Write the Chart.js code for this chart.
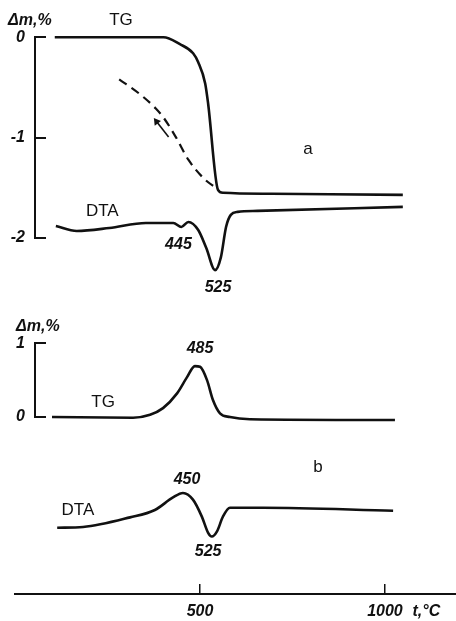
<!DOCTYPE html>
<html lang="en">
<head>
<meta charset="UTF-8">
<script src="https://cdn.jsdelivr.net/npm/chart.js"></script>
<style>
  body { margin: 0; background: #fff; }
  .wrap { position: relative; width: 456px; height: 621px; }
  .wrap > div { position: absolute; left: 0; width: 456px; }
</style>
</head>
<body>
<div class="wrap">
  <div style="top:0;height:300px"><canvas id="chartA"></canvas></div>
  <div style="top:300px;height:260px"><canvas id="chartB"></canvas></div>
  <div style="top:560px;height:61px"><canvas id="chartC"></canvas></div>
</div>
<script>
// ---- data (t in deg C) ----
// panel a: TG on heating
const tgA_t  = [108, 405, 450, 486, 500, 519, 527, 554, 568, 700, 1059]
const tgA_dm = [0, 0, -0.07, -0.16, -0.25, -0.46, -0.66, -1.52, -1.55, -1.56, -1.57]
// panel a: TG on cooling (dashed)
const coolA_t  = [284, 338, 384, 405, 438, 473, 519, 549]
const coolA_dm = [-0.42, -0.56, -0.71, -0.80, -0.99, -1.22, -1.42, -1.50]
// arrow along the cooling branch (tail, head)
const arrowA_t  = [419, 386]
const arrowA_dm = [-0.995, -0.84]
// panel a: DTA (arbitrary units)
const dtaA_t = [111, 168, 257, 357, 432, 454, 473, 500, 522, 546, 562, 576, 589, 608, 662, 1059]
const dtaA_v = [-1.88, -1.93, -1.90, -1.85, -1.85, -1.89, -1.84, -1.92, -2.10, -2.32, -2.19, -1.89, -1.77, -1.74, -1.73, -1.69]

// panel b: TG
const tgB_t  = [100, 319, 365, 400, 438, 465, 486, 500, 519, 535, 554, 581, 635, 1027]
const tgB_dm = [0, -0.01, 0.03, 0.12, 0.32, 0.54, 0.69, 0.68, 0.50, 0.23, 0.05, 0, -0.03, -0.04]
// panel b: DTA (arbitrary units)
const dtaB_t = [114, 184, 311, 378, 427, 454, 481, 505, 522, 532, 546, 562, 581, 670, 1022]
const dtaB_v = [-1.50, -1.49, -1.36, -1.26, -1.09, -1.03, -1.12, -1.35, -1.57, -1.62, -1.55, -1.35, -1.23, -1.23, -1.27]

// temperature axis ticks
const xTicks = [500, 1000]

// text notes on the plot: [text, t, value, axis, numeric?]
const notesA = [
  ['TG', 289, 0.17, 'y', false],
  ['DTA', 238, -1.73, 'y', false],
  ['a', 800, -1.12, 'y', false],
  ['445', 446, -2.07, 'y', true],
  ['525', 554, -2.49, 'y', true]
]
const notesB = [
  ['TG', 238, 0.20, 'y', false],
  ['485', 500, 0.93, 'y', true],
  ['DTA', 170, -1.26, 'y', false],
  ['450', 465, -0.85, 'y', true],
  ['525', 522, -1.82, 'y', true],
  ['b', 819, -0.68, 'y', false]
]
const notesC = [
  ['t,°C', 1112, -0.53, 'y', true]
]

const INK = '#111'
const FAMILY = "'Liberation Sans', Arial, sans-serif"
const numFont = { family: FAMILY, size: 16, style: 'italic', weight: 'bold' }
const textFont = { family: FAMILY, size: 17 }

const notesPlugin = {
  id: 'notes',
  afterDatasetsDraw(chart, args, opts) {
    const ctx = chart.ctx
    const xs = chart.scales.x
    ctx.save()
    ctx.fillStyle = INK
    ctx.textAlign = 'center'
    ctx.textBaseline = 'middle'
    for (const [text, t, v, axis, num] of opts.items || []) {
      const f = num ? numFont : textFont
      ctx.font = (f.style || '') + ' ' + (f.weight || '') + ' ' + f.size + 'px ' + f.family
      ctx.fillText(text, xs.getPixelForValue(t), chart.scales[axis].getPixelForValue(v))
    }
    ctx.restore()
  }
}

function line(ts, vs, extra) {
  return Object.assign({
    data: ts.map((t, i) => ({ x: t, y: vs[i] })),
    borderColor: INK,
    borderWidth: 2.6,
    pointRadius: 0,
    cubicInterpolationMode: 'monotone',
    fill: false,
    clip: false
  }, extra)
}

function panelY(min, max, width) {
  return {
    min: min, max: max,
    position: 'left',
    afterFit: s => { s.width = width },
    border: { color: INK, width: 2 },
    grid: { drawOnChartArea: false, color: INK, lineWidth: 2, tickLength: -11 },
    ticks: { stepSize: 1, padding: 21, color: INK, font: numFont }
  }
}

function baseOptions(extra) {
  return Object.assign({
    responsive: true,
    maintainAspectRatio: false,
    animation: false,
    events: [],
    devicePixelRatio: 1
  }, extra)
}

const hiddenX = { type: 'linear', display: false, min: 54, max: 1192 }

new Chart(document.getElementById('chartA'), {
  type: 'line',
  data: {
    datasets: [
      line(tgA_t, tgA_dm),
      line(coolA_t, coolA_dm, { borderDash: [9, 6], borderWidth: 2.2 }),
      line(arrowA_t, arrowA_dm, {
        borderWidth: 1.6, cubicInterpolationMode: 'default', tension: 0,
        pointRadius: [0, 4.5], pointStyle: 'triangle', pointRotation: [0, -37],
        pointBackgroundColor: INK, pointBorderWidth: 0
      }),
      line(dtaA_t, dtaA_v)
    ]
  },
  options: baseOptions({
    layout: { padding: { left: 8, right: 0, top: 0, bottom: 62 } },
    scales: { x: hiddenX, y: panelY(-2, 0, 27) },
    plugins: {
      legend: { display: false },
      tooltip: { enabled: false },
      title: { display: true, text: 'Δm,%', align: 'start', color: INK, font: numFont, padding: { top: 11, bottom: 7 } },
      notes: { items: notesA }
    }
  }),
  plugins: [notesPlugin]
})

new Chart(document.getElementById('chartB'), {
  type: 'line',
  data: {
    datasets: [
      line(tgB_t, tgB_dm),
      line(dtaB_t, dtaB_v)
    ]
  },
  options: baseOptions({
    layout: { padding: { left: 16, right: 0, top: 0, bottom: 143 } },
    scales: { x: hiddenX, y: panelY(0, 1, 19) },
    plugins: {
      legend: { display: false },
      tooltip: { enabled: false },
      title: { display: true, text: 'Δm,%', align: 'start', color: INK, font: numFont, padding: { top: 17, bottom: 7 } },
      notes: { items: notesB }
    }
  }),
  plugins: [notesPlugin]
})

new Chart(document.getElementById('chartC'), {
  type: 'line',
  data: { datasets: [] },
  options: baseOptions({
    layout: { padding: { left: 15, right: 0, top: 0, bottom: 0 } },
    scales: {
      x: {
        type: 'linear', min: 0, max: 1192,
        position: 'bottom',
        afterBuildTicks: axis => { axis.ticks = xTicks.map(v => ({ value: v })) },
        afterFit: s => { s.height = 27 },
        border: { color: INK, width: 2 },
        grid: { drawOnChartArea: false, color: INK, lineWidth: 1.5, tickLength: -10 },
        ticks: { padding: 18, color: INK, font: numFont, maxRotation: 0, callback: v => String(v) }
      },
      y: { display: false, min: 0, max: 1 }
    },
    plugins: {
      legend: { display: false },
      tooltip: { enabled: false },
      notes: { items: notesC }
    }
  }),
  plugins: [notesPlugin]
})
</script>
</body>
</html>
